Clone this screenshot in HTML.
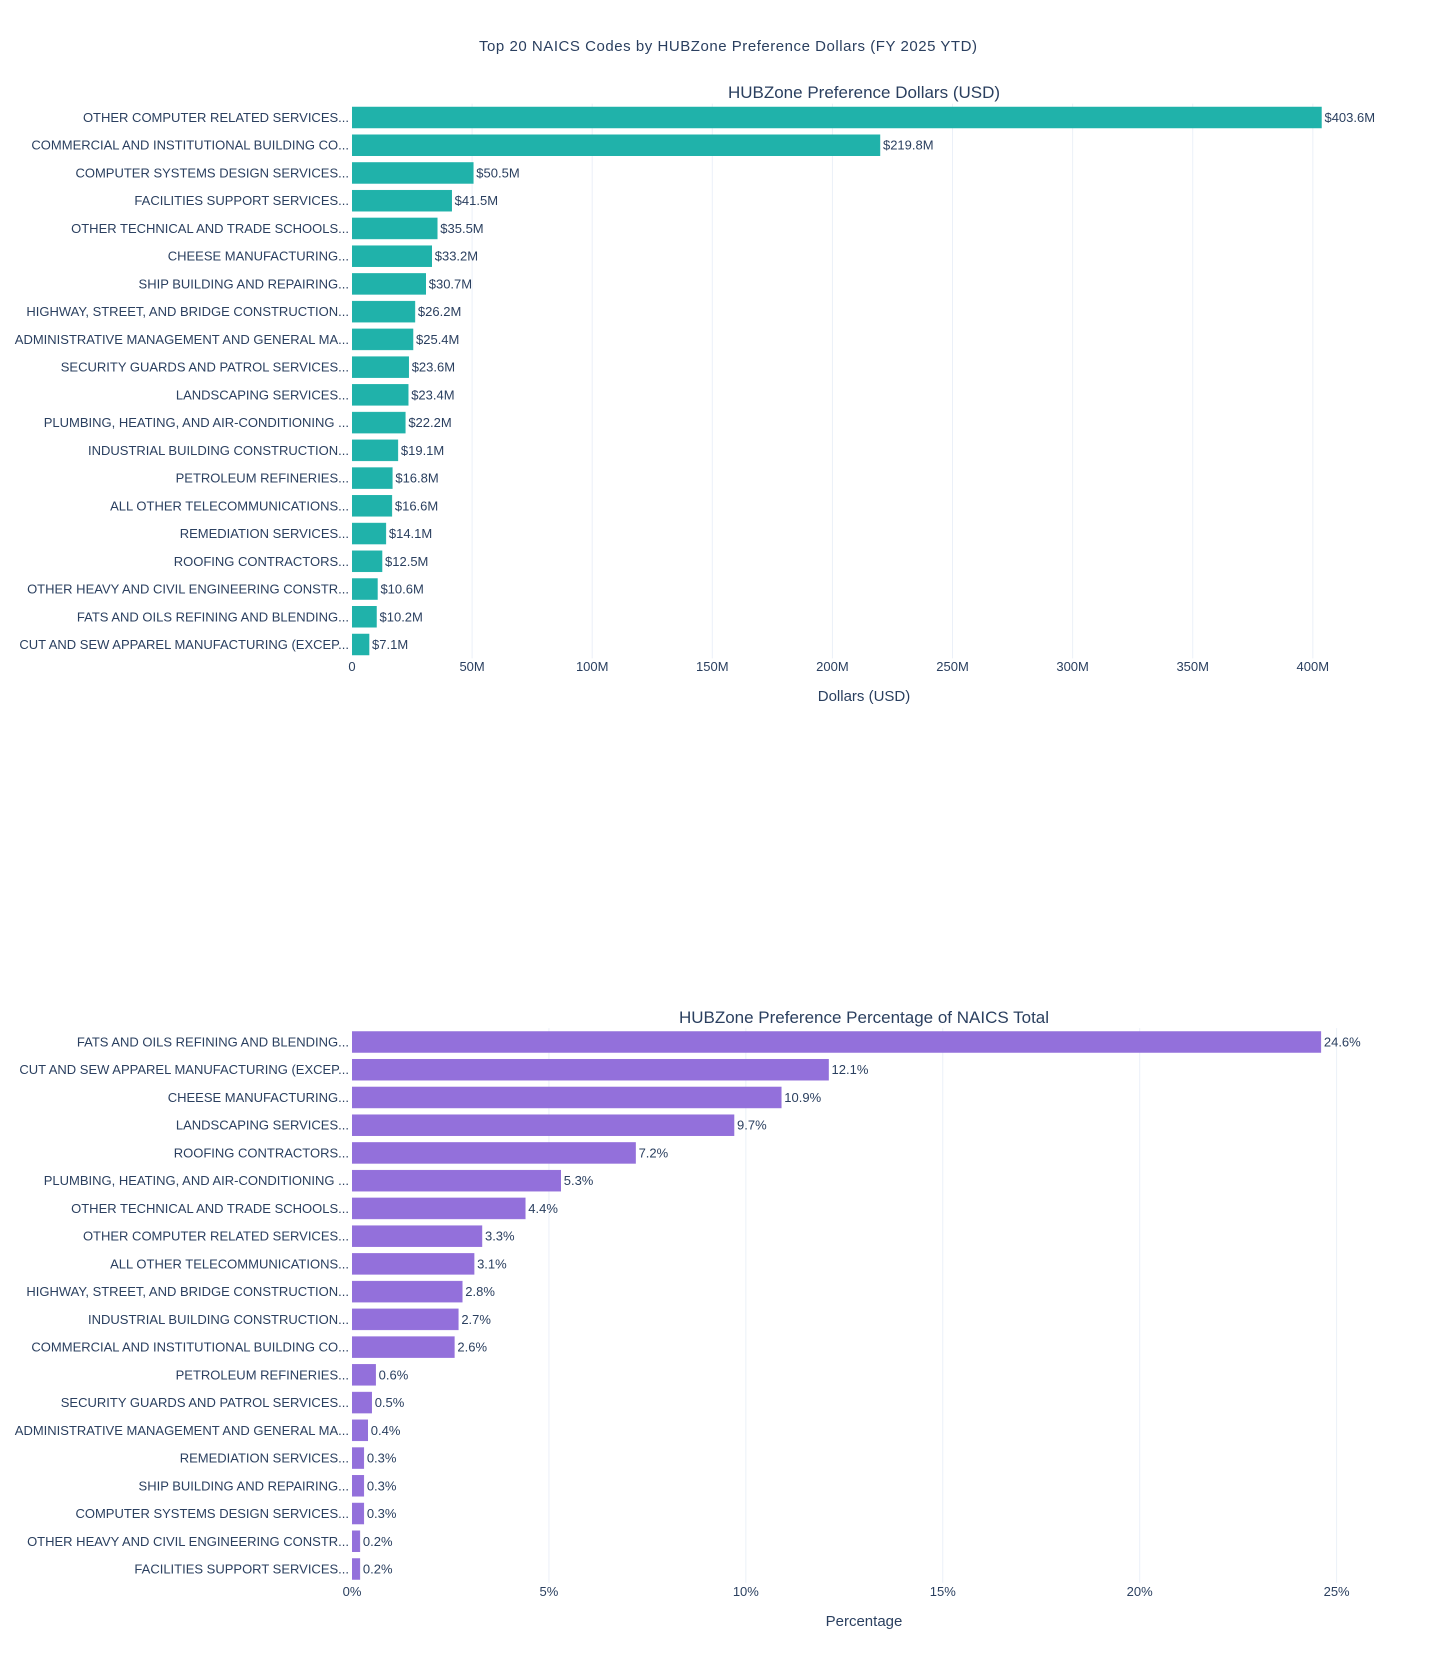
<!DOCTYPE html>
<html><head><meta charset="utf-8"><style>
html,body{margin:0;padding:0;background:#fff}
svg{display:block;font-family:"Liberation Sans","DejaVu Sans",sans-serif}
</style></head><body>
<svg id="c" width="1456" height="1664" viewBox="0 0 1456 1664">
<text x="728" y="51" text-anchor="middle" font-size="15" fill="#2a3f5f" textLength="498">Top 20 NAICS Codes by HUBZone Preference Dollars (FY 2025 YTD)</text>
</svg>
<script>
const dollarCats=["OTHER COMPUTER RELATED SERVICES...","COMMERCIAL AND INSTITUTIONAL BUILDING CO...","COMPUTER SYSTEMS DESIGN SERVICES...","FACILITIES SUPPORT SERVICES...","OTHER TECHNICAL AND TRADE SCHOOLS...","CHEESE MANUFACTURING...","SHIP BUILDING AND REPAIRING...","HIGHWAY, STREET, AND BRIDGE CONSTRUCTION...","ADMINISTRATIVE MANAGEMENT AND GENERAL MA...","SECURITY GUARDS AND PATROL SERVICES...","LANDSCAPING SERVICES...","PLUMBING, HEATING, AND AIR-CONDITIONING ...","INDUSTRIAL BUILDING CONSTRUCTION...","PETROLEUM REFINERIES...","ALL OTHER TELECOMMUNICATIONS...","REMEDIATION SERVICES...","ROOFING CONTRACTORS...","OTHER HEAVY AND CIVIL ENGINEERING CONSTR...","FATS AND OILS REFINING AND BLENDING...","CUT AND SEW APPAREL MANUFACTURING (EXCEP..."];
const dollarVals=[403.6,219.8,50.5,41.5,35.5,33.2,30.7,26.2,25.4,23.6,23.4,22.2,19.1,16.8,16.6,14.1,12.5,10.6,10.2,7.1];
const dollarTicks=[0,50,100,150,200,250,300,350,400];
const pctCats=["FATS AND OILS REFINING AND BLENDING...","CUT AND SEW APPAREL MANUFACTURING (EXCEP...","CHEESE MANUFACTURING...","LANDSCAPING SERVICES...","ROOFING CONTRACTORS...","PLUMBING, HEATING, AND AIR-CONDITIONING ...","OTHER TECHNICAL AND TRADE SCHOOLS...","OTHER COMPUTER RELATED SERVICES...","ALL OTHER TELECOMMUNICATIONS...","HIGHWAY, STREET, AND BRIDGE CONSTRUCTION...","INDUSTRIAL BUILDING CONSTRUCTION...","COMMERCIAL AND INSTITUTIONAL BUILDING CO...","PETROLEUM REFINERIES...","SECURITY GUARDS AND PATROL SERVICES...","ADMINISTRATIVE MANAGEMENT AND GENERAL MA...","REMEDIATION SERVICES...","SHIP BUILDING AND REPAIRING...","COMPUTER SYSTEMS DESIGN SERVICES...","OTHER HEAVY AND CIVIL ENGINEERING CONSTR...","FACILITIES SUPPORT SERVICES..."];
const pctVals=[24.6,12.1,10.9,9.7,7.2,5.3,4.4,3.3,3.1,2.8,2.7,2.6,0.6,0.5,0.4,0.3,0.3,0.3,0.2,0.2];
const pctTicks=[0,5,10,15,20,25];

const svg=document.getElementById('c');
const NS='http://www.w3.org/2000/svg';
function mk(tag,attrs,parent){const e=document.createElementNS(NS,tag);for(const k in attrs)e.setAttribute(k,attrs[k]);(parent||svg).appendChild(e);return e;}

function panel(o){
  const g=mk('g',{});
  
  
  const x0=352,x1=1376;
  const sx=v=>x0+(v/o.max)*(x1-x0);
  const n=o.cats.length;
  const step=(o.yLast-o.yFirst)/(n-1);
  const sy=i=>o.yFirst+i*step;
  const top=o.yFirst-step/2, bot=o.yLast+step/2;
  const clipId=o.name+'-clip';
  const cp=mk('clipPath',{id:clipId},g);mk('rect',{x:x0,y:top-5,width:x1-x0,height:bot-top+10},cp);
  o.ticks.forEach(t=>{
    const x=sx(t);
    if(t>0){const l=mk('line',{x1:x,x2:x,y1:top,y2:bot,stroke:'#ebf0f8','stroke-width':1},g);
      
      }
    const tx=mk('text',{x:x,y:o.tickY,'text-anchor':'middle','font-size':13,fill:'#2a3f5f'},g);
    tx.textContent=o.tickFmt(t);
    
    
  });
  const bg=mk('g',{'clip-path':'url(#'+clipId+')'},g);
  o.cats.forEach((c,i)=>{
    const y=sy(i);
    const lb=mk('text',{x:x0-3,y:y+4.5,'text-anchor':'end','font-size':13,fill:'#2a3f5f'},g);
    lb.textContent=c;
    
    
    const w=sx(o.vals[i])-x0;
    const r=mk('rect',{x:x0,y:y-10.5,width:w,height:21,fill:o.color,stroke:o.color,'stroke-width':0.5},bg);
    
    
    const vt=mk('text',{x:x0+w+3,y:y+4.5,'font-size':13,fill:'#2a3f5f'},bg);
    vt.textContent=o.valFmt(o.vals[i]);
    
    
  });
  const st=mk('text',{x:(x0+x1)/2,y:o.titleY,'text-anchor':'middle','font-size':17,fill:'#2a3f5f'},g);
  st.textContent=o.title;
  
  
  const xt=mk('text',{x:(x0+x1)/2,y:o.xTitleY,'text-anchor':'middle','font-size':15,fill:'#2a3f5f'},g);
  xt.textContent=o.xTitle;
  
  
}
panel({name:'dollars-panel',cats:dollarCats,vals:dollarVals,ticks:dollarTicks,max:426.3,color:'#20b2aa',
  yFirst:117.5,yLast:644.5,tickY:671,titleY:98,xTitleY:701,title:'HUBZone Preference Dollars (USD)',xTitle:'Dollars (USD)',
  tickFmt:t=>t===0?'0':t+'M',valFmt:v=>'$'+v.toFixed(1)+'M'});
panel({name:'percentage-panel',cats:pctCats,vals:pctVals,ticks:pctTicks,max:26.0,color:'#9370db',
  yFirst:1042,yLast:1569,tickY:1596,titleY:1023,xTitleY:1626,title:'HUBZone Preference Percentage of NAICS Total',xTitle:'Percentage',
  tickFmt:t=>t+'%',valFmt:v=>v.toFixed(1)+'%'});
</script>
</body></html>
